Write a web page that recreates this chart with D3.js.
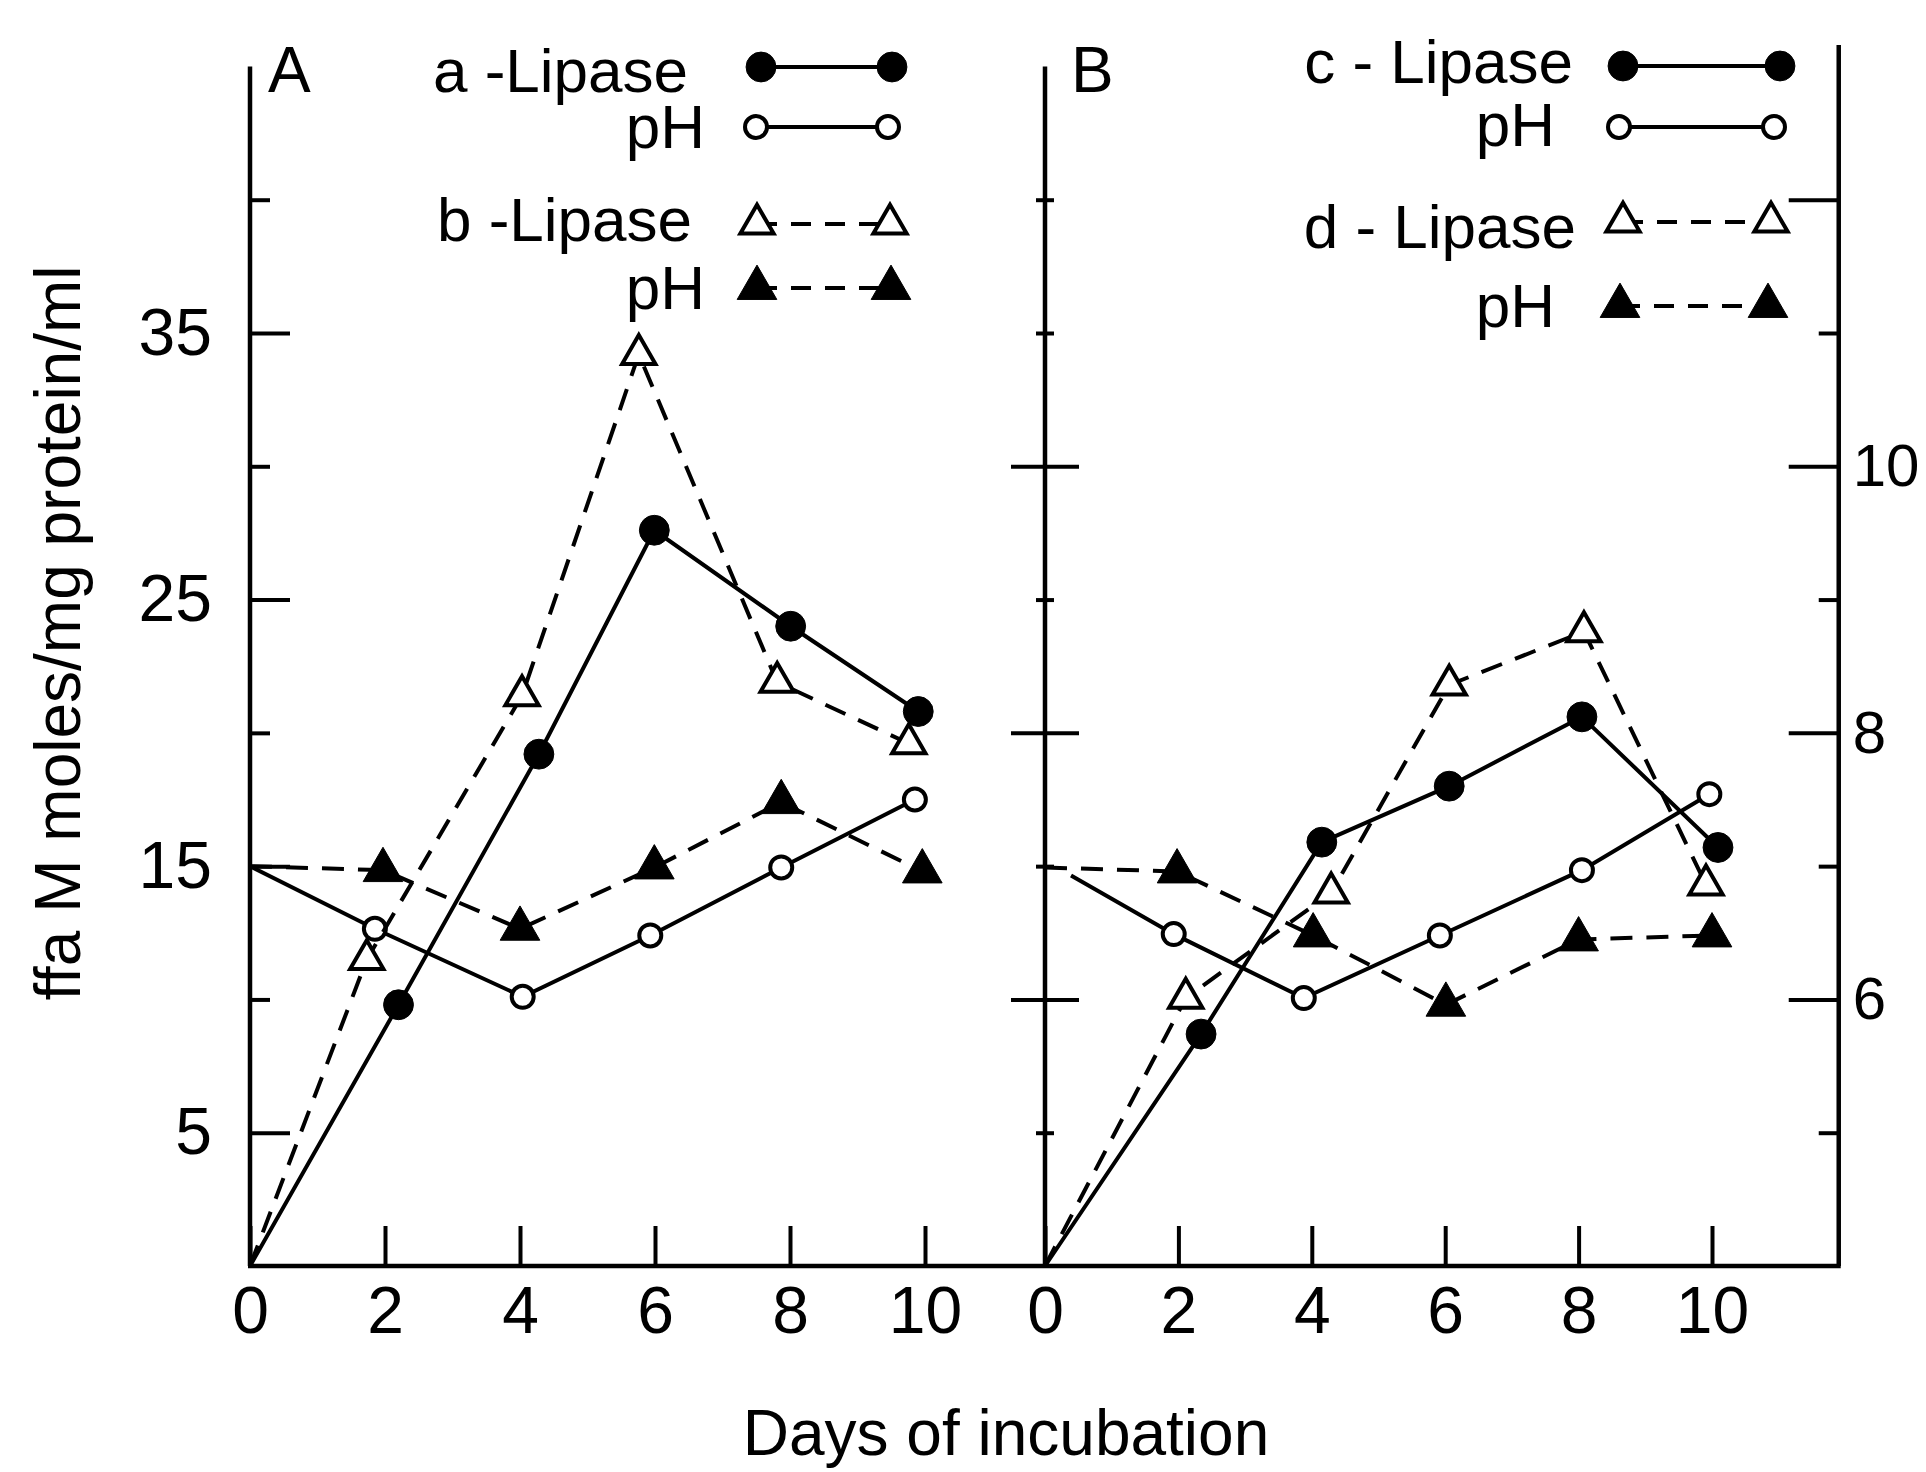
<!DOCTYPE html>
<html>
<head>
<meta charset="utf-8">
<script src="https://cdn.jsdelivr.net/npm/d3@7"></script>
<style>
  body { margin: 0; background: #fff; }
  text { font-family: "Liberation Sans", Arial, sans-serif; fill: #000; }
</style>
</head>
<body>
<svg id="chart" width="1926" height="1472"></svg>
<script>
// values, [day, value]
// lipase in ffa uM/mg protein/ml, pH on the right hand scale
var aLipase = [[0, 0], [2.2, 9.8], [4.28, 19.2], [5.99, 27.6], [8.01, 24.0], [9.9, 20.8]];
var aPH     = [[0, 7.0], [1.85, 6.53], [4.04, 6.02], [5.93, 6.48], [7.87, 6.99], [9.85, 7.5]];
var bLipase = [[0, 0], [1.73, 11.5], [4.03, 21.4], [5.76, 34.2], [7.81, 21.9], [9.76, 19.6]];
var bPH     = [[0, 7.0], [1.97, 6.97], [4.0, 6.53], [5.99, 6.99], [7.87, 7.48], [9.96, 6.96]];

var cLipase = [[0, 0], [2.34, 8.7], [4.15, 15.9], [6.06, 18.0], [8.05, 20.6], [10.09, 15.7]];
var cPH     = [[0.39, 6.93], [1.93, 6.49], [3.88, 6.01], [5.92, 6.48], [8.05, 6.97], [9.96, 7.54]];
var dLipase = [[0, 0], [2.11, 10.05], [4.29, 14.0], [6.06, 21.8], [8.08, 23.8], [9.91, 14.3]];
var dPH     = [[0, 6.99], [1.98, 6.96], [4.02, 6.48], [6.01, 5.96], [8.0, 6.45], [10.0, 6.48]];

var dayTicks = [0, 2, 4, 6, 8, 10];
var ffaLabelTicks = [5, 15, 25, 35];
var ffaMinorTicks = [10, 20, 30, 40];
var bLongTicks = [10, 20, 30];
var bShortTicks = [5, 15, 25, 35, 40];
var phLongTicks = [6, 8, 10, 12];
var phShortTicks = [5, 7, 9, 11];
var phLabels = [6, 8, 10];

var svg = d3.select("#chart");

var xA = d3.scaleLinear().domain([0, 10]).range([250, 925]);
var xB = d3.scaleLinear().domain([0, 10]).range([1045, 1712]);
var y = d3.scaleLinear().domain([0, 35]).range([1266, 333]);
var yPH = d3.scaleLinear().domain([4, 11]).range([1266, 333]);

var black = "#000";
var dash = "22,14";

function styleAxis(g, fs) {
  g.select(".domain").remove();
  g.selectAll(".tick line").attr("stroke", black).attr("stroke-width", 4);
  g.selectAll(".tick text").attr("font-size", fs).attr("fill", black)
    .attr("font-family", "Liberation Sans, Arial, sans-serif");
}

// axis lines
function vline(x, y1, y2) {
  svg.append("line").attr("x1", x).attr("x2", x).attr("y1", y1).attr("y2", y2)
    .attr("stroke", black).attr("stroke-width", 4.5);
}
vline(xA(0), y(0), y(45));
vline(xB(0), y(0), y(45));
vline(xB(11.9), y(0), y(45.8));
svg.append("line").attr("x1", xA(0) - 2).attr("x2", xB(11.9) + 2)
  .attr("y1", y(0)).attr("y2", y(0)).attr("stroke", black).attr("stroke-width", 4.5);

// panel A left axis
svg.append("g").attr("transform", "translate(" + xA(0) + ",0)")
  .call(d3.axisLeft(y).tickValues(ffaLabelTicks).tickSizeInner(-40).tickSizeOuter(0).tickPadding(38))
  .call(styleAxis, 66);
svg.append("g").attr("transform", "translate(" + xA(0) + ",0)")
  .call(d3.axisLeft(y).tickValues(ffaMinorTicks).tickSizeInner(-20).tickSizeOuter(0).tickFormat(""))
  .call(styleAxis, 66);

// panel B left axis, crossing ticks
[[bLongTicks, 34], [bShortTicks, 9]].forEach(function (t) {
  svg.append("g").attr("transform", "translate(" + xB(0) + ",0)")
    .call(d3.axisLeft(y).tickValues(t[0]).tickSizeInner(t[1]).tickSizeOuter(0).tickFormat(""))
    .call(styleAxis, 66);
  svg.append("g").attr("transform", "translate(" + xB(0) + ",0)")
    .call(d3.axisRight(y).tickValues(t[0]).tickSizeInner(t[1]).tickSizeOuter(0).tickFormat(""))
    .call(styleAxis, 66);
});

// right pH axis
svg.append("g").attr("transform", "translate(" + xB(11.9) + ",0)")
  .call(d3.axisRight(yPH).tickValues(phLongTicks).tickSizeInner(-50).tickSizeOuter(0).tickPadding(14)
    .tickFormat(function (d) { return phLabels.indexOf(d) >= 0 ? d : ""; }))
  .call(styleAxis, 60);
svg.append("g").attr("transform", "translate(" + xB(11.9) + ",0)")
  .call(d3.axisRight(yPH).tickValues(phShortTicks).tickSizeInner(-20).tickSizeOuter(0).tickFormat(""))
  .call(styleAxis, 60);

// x axes
[xA, xB].forEach(function (x) {
  svg.append("g").attr("transform", "translate(0," + y(0) + ")")
    .call(d3.axisBottom(x).tickValues(dayTicks).tickSizeInner(-40).tickSizeOuter(0).tickPadding(20))
    .call(styleAxis, 66);
});

function marker(filled, shape) {
  if (shape == "circle") return d3.symbol().type(d3.symbolCircle).size(filled ? 700 : 380)();
  return d3.symbol().type(d3.symbolTriangle).size(filled ? 680 : 480)();
}

// series
function series(x, yy, data, filled, shape, dashed) {
  var line = d3.line().x(function (d) { return x(d[0]); }).y(function (d) { return yy(d[1]); });
  svg.append("path").datum(data).attr("d", line)
    .attr("fill", "none").attr("stroke", black).attr("stroke-width", 4)
    .attr("stroke-dasharray", dashed ? dash : null);
  svg.selectAll(null).data(data.slice(1)).enter().append("path")
    .attr("transform", function (d) { return "translate(" + x(d[0]) + "," + yy(d[1]) + ")"; })
    .attr("d", marker(filled, shape))
    .attr("fill", filled ? black : "#fff").attr("stroke", black).attr("stroke-width", filled ? 1 : 4);
}

series(xA, yPH, aPH, false, "circle", false);
series(xA, yPH, bPH, true, "triangle", true);
series(xA, y, bLipase, false, "triangle", true);
series(xA, y, aLipase, true, "circle", false);

series(xB, yPH, cPH, false, "circle", false);
series(xB, yPH, dPH, true, "triangle", true);
series(xB, y, dLipase, false, "triangle", true);
series(xB, y, cLipase, true, "circle", false);

// legends
var legendA = [
  {label: "a -Lipase", filled: true, shape: "circle", dashed: false, tx: 688, ty: 92, x1: 761, x2: 892, my: 67},
  {label: "pH", filled: false, shape: "circle", dashed: false, tx: 705, ty: 148, x1: 756, x2: 888, my: 127},
  {label: "b -Lipase", filled: false, shape: "triangle", dashed: true, tx: 692, ty: 241, x1: 757, x2: 890, my: 224},
  {label: "pH", filled: true, shape: "triangle", dashed: true, tx: 705, ty: 309, x1: 757, x2: 891, my: 288}
];
var legendB = [
  {label: "c - Lipase", filled: true, shape: "circle", dashed: false, tx: 1573, ty: 83, x1: 1623, x2: 1780, my: 66},
  {label: "pH", filled: false, shape: "circle", dashed: false, tx: 1555, ty: 146, x1: 1619, x2: 1774, my: 127},
  {label: "d - Lipase", filled: false, shape: "triangle", dashed: true, tx: 1576, ty: 248, x1: 1623, x2: 1771, my: 222},
  {label: "pH", filled: true, shape: "triangle", dashed: true, tx: 1555, ty: 327, x1: 1620, x2: 1768, my: 306}
];

legendA.concat(legendB).forEach(function (d) {
  svg.append("text").attr("x", d.tx).attr("y", d.ty).attr("text-anchor", "end")
    .attr("font-size", 62).text(d.label);
  svg.append("line").attr("x1", d.x1).attr("x2", d.x2).attr("y1", d.my).attr("y2", d.my)
    .attr("stroke", black).attr("stroke-width", 4).attr("stroke-dasharray", d.dashed ? "20,14" : null);
  [d.x1, d.x2].forEach(function (mx) {
    svg.append("path").attr("transform", "translate(" + mx + "," + d.my + ")")
      .attr("d", marker(d.filled, d.shape))
      .attr("fill", d.filled ? black : "#fff").attr("stroke", black).attr("stroke-width", d.filled ? 1 : 4);
  });
});

// panel letters
svg.append("text").attr("x", 268).attr("y", 92).attr("font-size", 64).text("A");
svg.append("text").attr("x", 1071).attr("y", 92).attr("font-size", 64).text("B");

// axis titles
svg.append("text").attr("x", 1006).attr("y", 1455).attr("text-anchor", "middle")
  .attr("font-size", 64).text("Days of incubation");
svg.append("text").attr("transform", "translate(80,633) rotate(-90)").attr("text-anchor", "middle")
  .attr("font-size", 64).text("ffa M moles/mg protein/ml");
</script>
</body>
</html>
